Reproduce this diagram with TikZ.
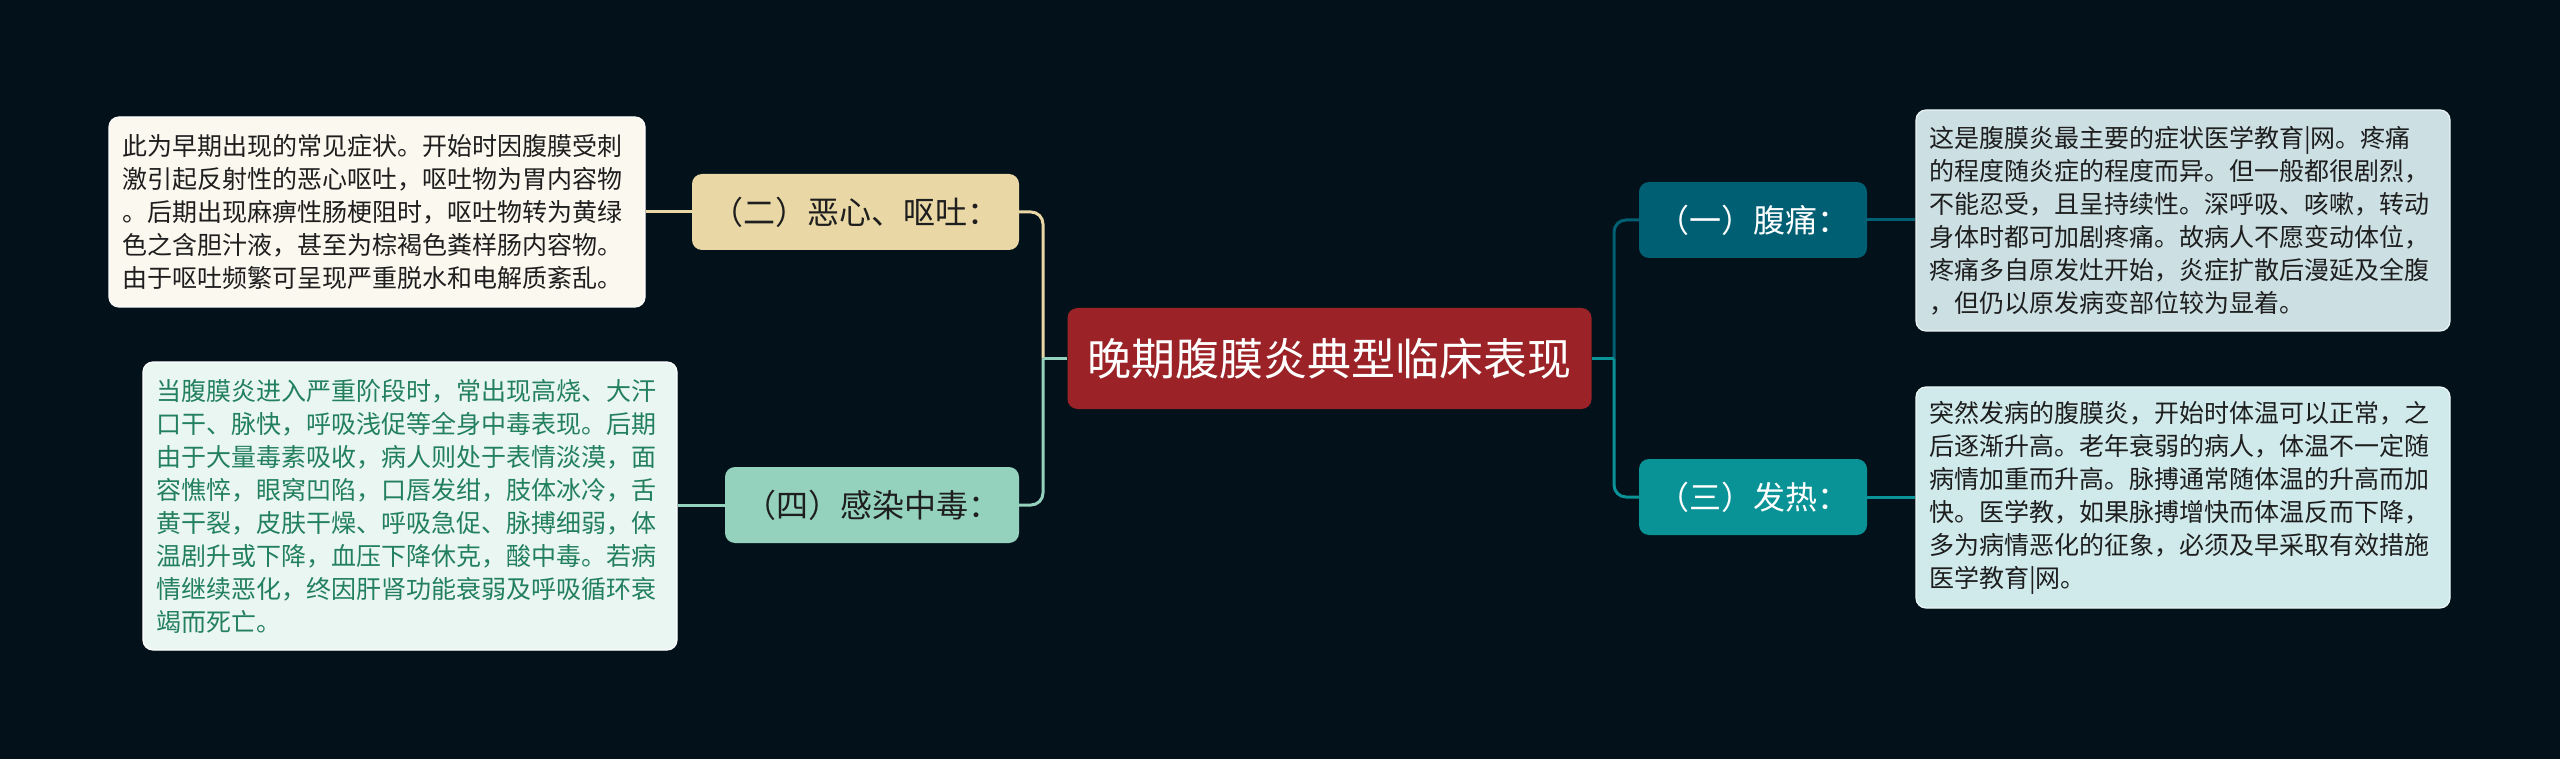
\documentclass[tikz,border=0pt]{standalone}
\usepackage{fontspec}
\setmainfont{Noto Sans CJK SC}
\definecolor{bgc}{HTML}{03111A}
\definecolor{redc}{HTML}{9B2226}
\definecolor{tanc}{HTML}{E9D8A6}
\definecolor{mintc}{HTML}{94D2BD}
\definecolor{dtealc}{HTML}{005F73}
\definecolor{tealc}{HTML}{0A9396}
\definecolor{creamc}{HTML}{FBF8EF}
\definecolor{lmintc}{HTML}{EAF6F2}
\definecolor{lbluec}{HTML}{CCE0E4}
\definecolor{lteal}{HTML}{D0EAEC}
\definecolor{greentext}{HTML}{23805F}
\definecolor{darktext}{HTML}{1E1E1E}
\tikzset{
  rootbox/.style={rounded corners=10pt, fill=redc, text=white, inner sep=0pt,
    minimum width=524pt, minimum height=101pt, font=\fontsize{44}{54}\selectfont},
  lvlbox/.style={rounded corners=10pt, inner sep=0pt, minimum height=76pt,
    font=\fontsize{32}{38}\selectfont},
  descbox/.style={rounded corners=10pt, inner xsep=13pt, inner ysep=0pt,
    text width=508pt, align=left, font=\fontsize{25}{33}\selectfont, line width=1.2pt},
  conn/.style={line width=3pt, rounded corners=12pt}
}
\begin{document}
\begin{tikzpicture}[x=1pt,y=-1pt]
\fill[bgc] (0,0) rectangle (2560,759);
\useasboundingbox (0,0) rectangle (2560,759);

\node[rootbox] (c) at (1329.5,358.5) {晚期腹膜炎典型临床表现};

\node[lvlbox, fill=tanc, text=darktext, minimum width=327pt] (n2) at (855.5,212) {（二）恶心、呕吐：};
\node[lvlbox, fill=mintc, text=darktext, minimum width=294pt] (n4) at (872,505) {（四）感染中毒：};
\node[lvlbox, fill=dtealc, text=white, minimum width=228pt] (n1) at (1753,220) {（一）腹痛：};
\node[lvlbox, fill=tealc, text=white, minimum width=228pt] (n3) at (1753,497) {（三）发热：};

\node[descbox, fill=creamc, draw=white, text=darktext, minimum height=190pt, text width=510pt] (d2) at (377,212) {此为早期出现的常见症状。开始时因腹膜受刺\\激引起反射性的恶心呕吐，呕吐物为胃内容物\\。后期出现麻痹性肠梗阻时，呕吐物转为黄绿\\色之含胆汁液，甚至为棕褐色粪样肠内容物。\\由于呕吐频繁可呈现严重脱水和电解质紊乱。};

\node[descbox, fill=lmintc, draw=white, text=greentext, minimum height=288pt] (d4) at (410,506) {当腹膜炎进入严重阶段时，常出现高烧、大汗\\口干、脉快，呼吸浅促等全身中毒表现。后期\\由于大量毒素吸收，病人则处于表情淡漠，面\\容憔悴，眼窝凹陷，口唇发绀，肢体冰冷，舌\\黄干裂，皮肤干燥、呼吸急促、脉搏细弱，体\\温剧升或下降，血压下降休克，酸中毒。若病\\情继续恶化，终因肝肾功能衰弱及呼吸循环衰\\竭而死亡。};

\node[descbox, fill=lbluec, draw=white!60!lbluec, text=darktext, minimum height=221pt] (d1) at (2183,220.5) {这是腹膜炎最主要的症状医学教育|网。疼痛\\的程度随炎症的程度而异。但一般都很剧烈，\\不能忍受，且呈持续性。深呼吸、咳嗽，转动\\身体时都可加剧疼痛。故病人不愿变动体位，\\疼痛多自原发灶开始，炎症扩散后漫延及全腹\\，但仍以原发病变部位较为显着。};

\node[descbox, fill=lteal, draw=white!60!lteal, text=darktext, minimum height=221pt] (d3) at (2183,497.5) {突然发病的腹膜炎，开始时体温可以正常，之\\后逐渐升高。老年衰弱的病人，体温不一定随\\病情加重而升高。脉搏通常随体温的升高而加\\快。医学教，如果脉搏增快而体温反而下降，\\多为病情恶化的征象，必须及早采取有效措施\\医学教育|网。};

\coordinate (jl) at (1043,358.5);
\coordinate (jr) at (1614,358.5);

\draw[conn, tanc] (jl) |- (n2.east);
\draw[conn, mintc] (jl) |- (n4.east);
\draw[conn, mintc] (c.west) -- (jl);
\draw[conn, dtealc] (jr) |- (n1.west);
\draw[conn, tealc] (jr) |- (n3.west);
\draw[conn, tealc] (c.east) -- (jr);

\draw[conn, tanc] (n2.west) -- (n2.west -| d2.east);
\draw[conn, mintc] (n4.west) -- (n4.west -| d4.east);
\draw[conn, dtealc] (n1.east) -- (n1.east -| d1.west);
\draw[conn, tealc] (n3.east) -- (n3.east -| d3.west);
\end{tikzpicture}
\end{document}
